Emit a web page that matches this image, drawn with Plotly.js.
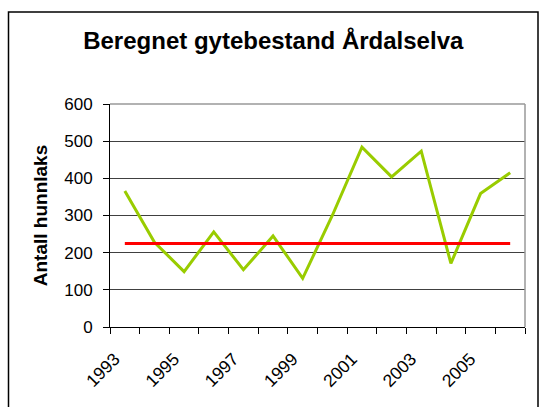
<!DOCTYPE html>
<html>
<head>
<meta charset="utf-8">
<script src="https://cdn.plot.ly/plotly-3.0.1.min.js"></script>
<style>
html,body{margin:0;padding:0;background:#fff;}
#chart{width:539px;height:407px;}
</style>
</head>
<body>
<div id="chart"></div>
<script>
var years = [1993,1994,1995,1996,1997,1998,1999,2000,2001,2002,2003,2004,2005,2006];
var gytebestand = [366,228,149,256,154,245,131,300,484,404,473,171,359,415];
var gytebestandsmaal = [225,225,225,225,225,225,225,225,225,225,225,225,225,225];
var tickYears = [1993,1995,1997,1999,2001,2003,2005];
var tickLabels = ["1993","1995","1997","1999","2001","2003","2005"];
var yTicks = [0,100,200,300,400,500,600];

var W = 539, H = 407;
var m = {l:110, r:14, t:104, b:80};
var pw = W - m.l - m.r, ph = H - m.t - m.b;
function px2x(p){ return (p - m.l)/pw; }
function px2y(p){ return (H - m.b - p)/ph; }

var traces = [
  {x: years, y: gytebestand, type:'scatter', mode:'lines',
   line:{color:'#99CC00', width:3}, hoverinfo:'skip'},
  {x: years, y: gytebestandsmaal, type:'scatter', mode:'lines',
   line:{color:'#FF0000', width:3}, hoverinfo:'skip'}
];

var layout = {
  width: W, height: H,
  margin: m,
  paper_bgcolor:'#ffffff', plot_bgcolor:'#ffffff',
  showlegend:false,
  font:{family:'"Liberation Sans", Arial, sans-serif', color:'#000', size:17},
  title:{text:'<b>Beregnet gytebestand Årdalselva</b>', font:{size:24, color:'#000'},
         x:0.507, xanchor:'center', xref:'container', yref:'container', y:1-40.5/H, yanchor:'middle'},
  xaxis:{
    range:[1992.5, 2006.5], tickvals: tickYears, ticktext: tickLabels,
    ticks:'', tickangle:-45, showgrid:false, zeroline:false,
    showline:true, linecolor:'#000', linewidth:1,
    ticklabelstandoff: 14, ticklabelshift: -10,
    minor:{tick0:1992.5, dtick:1, ticks:'outside', ticklen:6, tickcolor:'#000', tickwidth:1, showgrid:false},
    tickfont:{size:17.5}
  },
  yaxis:{
    range:[0,600], tickvals: yTicks, ticks:'outside', ticklen:6, tickcolor:'#000',
    showline:true, linecolor:'#000', linewidth:1, zeroline:false,
    showgrid:true, gridcolor:'#404040', gridwidth:1,
    ticklabelstandoff: 7,
    tickfont:{size:17},
    title:{text:'<b>Antall hunnlaks</b>', font:{size:19}, standoff:11}
  },
  shapes:[
    {type:'line', xref:'paper', yref:'paper', x0:0, x1:1, y0:1, y1:1, line:{color:'#999999', width:1.5}, layer:'above'},
    {type:'line', xref:'paper', yref:'paper', x0:1, x1:1, y0:0, y1:1, line:{color:'#999999', width:1.5}, layer:'above'},
    {type:'rect', xref:'paper', yref:'paper', x0:px2x(8.5), x1:px2x(538), y0:px2y(12), y1:px2y(420),
     line:{color:'#000', width:1.5}, fillcolor:'rgba(0,0,0,0)', layer:'above'}
  ]
};

Plotly.newPlot('chart', traces, layout, {displayModeBar:false, staticPlot:true});
</script>
</body>
</html>
